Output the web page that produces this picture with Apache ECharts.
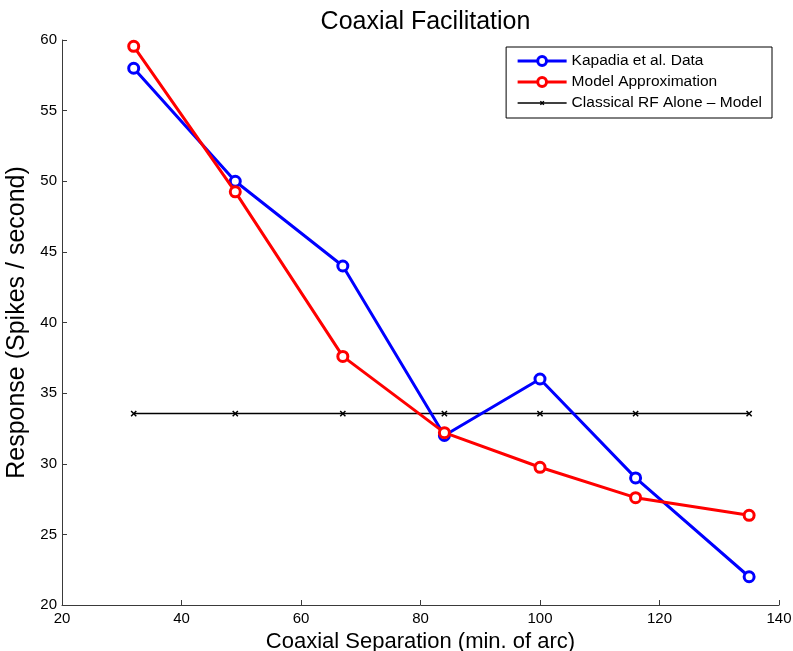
<!DOCTYPE html>
<html><head><meta charset="utf-8">
<script src="https://cdn.jsdelivr.net/npm/echarts@6/dist/echarts.min.js"></script>
<style>html,body{margin:0;padding:0;background:#fff}#c{width:793px;height:651px}</style>
</head><body><div id="c"></div>
<script>
const separation = [32, 49, 67, 84, 100, 116, 135];
const kapadiaData = [58, 50, 44, 32, 36, 29, 22];
const modelApprox = [59.55, 49.25, 37.6, 32.2, 29.75, 27.6, 26.35];
const classicalRF = [33.55, 33.55, 33.55, 33.55, 33.55, 33.55, 33.55];
const seriesNames = ['Kapadia et al. Data', 'Model Approximation', 'Classical RF Alone \u2013 Model'];

const pair = (xs, ys) => xs.map((x, i) => [x, ys[i]]);
const font = 'Liberation Sans, Arial, Helvetica, sans-serif';
const axisColor = '#3a3a3a';
const xMark = 'path://M0,0L0,0M10,10L10,10M3,3L7,7M7,3L3,7';
const chart = echarts.init(document.getElementById('c'));
chart.setOption({
  animation: false,
  backgroundColor: '#fff',
  title: { text: 'Coaxial Facilitation', left: 420.5, textAlign: 'center', top: 5,
    textStyle: { fontFamily: font, fontSize: 25, fontWeight: 'normal', color: '#000' } },
  grid: { left: 62, right: 14, top: 40, bottom: 46, containLabel: false, outerBoundsMode: 'none' },
  legend: {
    orient: 'vertical', right: 21, top: 47,
    backgroundColor: '#fff', borderColor: '#000', borderWidth: 1,
    padding: [6, 10, 7, 10], itemGap: 5, itemWidth: 49, itemHeight: 11,
    textStyle: { fontFamily: font, fontSize: 15.5, lineHeight: 16, color: '#000' },
    data: [
      { name: seriesNames[0], lineStyle: { width: 3 }, itemStyle: { borderWidth: 3 } },
      { name: seriesNames[1], lineStyle: { width: 3 }, itemStyle: { borderWidth: 3 } },
      { name: seriesNames[2], lineStyle: { width: 1.5 }, itemStyle: { borderWidth: 1.5 } }
    ]
  },
  xAxis: {
    type: 'value', min: 20, max: 140, interval: 20,
    name: 'Coaxial Separation (min. of arc)', nameLocation: 'middle', nameGap: 24,
    nameTextStyle: { fontFamily: font, fontSize: 22, color: '#000' },
    axisLine: { lineStyle: { color: axisColor } },
    axisTick: { inside: true, length: 5, lineStyle: { color: axisColor } },
    axisLabel: { fontFamily: font, fontSize: 15, color: '#000', margin: 6 },
    splitLine: { show: false }
  },
  yAxis: {
    type: 'value', min: 20, max: 60, interval: 5,
    name: 'Response (Spikes / second)', nameLocation: 'middle', nameGap: 29,
    nameTextStyle: { fontFamily: font, fontSize: 25, color: '#000' },
    axisLine: { show: true, lineStyle: { color: axisColor } },
    axisTick: { show: true, inside: true, length: 5, lineStyle: { color: axisColor } },
    axisLabel: { fontFamily: font, fontSize: 15, color: '#000', margin: 5 },
    splitLine: { show: false }
  },
  series: [
    { name: seriesNames[2], type: 'line', data: pair(separation, classicalRF), z: 1,
      symbol: xMark, symbolSize: 13,
      lineStyle: { color: '#000', width: 1.5 },
      itemStyle: { color: '#000', borderColor: '#000', borderWidth: 1.5 } },
    { name: seriesNames[0], type: 'line', data: pair(separation, kapadiaData), z: 2,
      symbol: 'circle', symbolSize: 10,
      lineStyle: { color: '#0000ff', width: 3 },
      itemStyle: { color: '#fff', borderColor: '#0000ff', borderWidth: 3 } },
    { name: seriesNames[1], type: 'line', data: pair(separation, modelApprox), z: 3,
      symbol: 'circle', symbolSize: 10,
      lineStyle: { color: '#ff0000', width: 3 },
      itemStyle: { color: '#fff', borderColor: '#ff0000', borderWidth: 3 } }
  ]
});
</script></body></html>
